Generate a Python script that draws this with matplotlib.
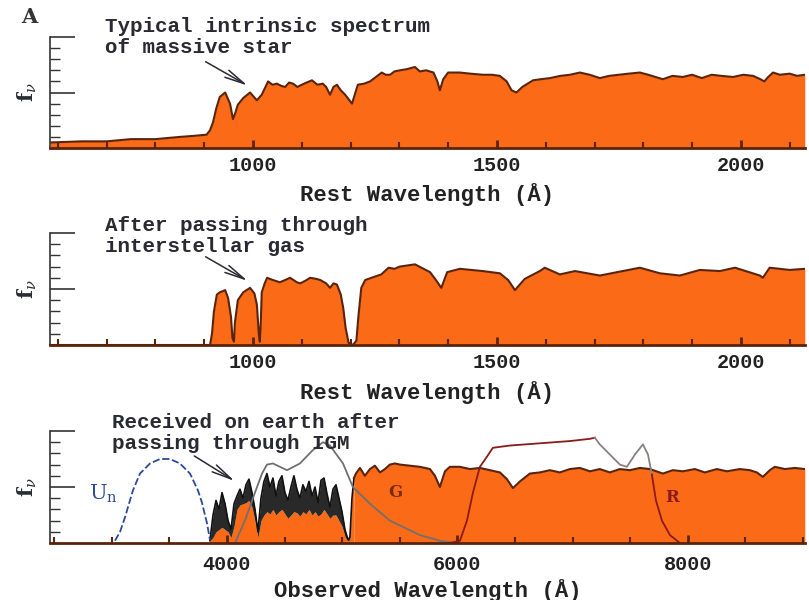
import matplotlib
matplotlib.use("Agg")
import matplotlib.pyplot as plt
from matplotlib.ticker import MultipleLocator, FixedLocator

# ---- panel 1: intrinsic spectrum (rest frame, arbitrary f_nu units) ----
rest_wave = [584, 650, 700, 750, 800, 850, 880, 905, 912, 918, 925, 932, 943, 953, 959, 964,
             969, 980, 994, 1008, 1018, 1031, 1040, 1049, 1058, 1066, 1074, 1082, 1091, 1100,
             1110, 1121, 1132, 1143, 1150, 1158, 1165, 1172, 1180, 1189, 1203, 1210, 1215,
             1228, 1240, 1252, 1264, 1272, 1281, 1290, 1301, 1315, 1332, 1342, 1355, 1370,
             1378, 1383, 1390, 1400, 1424, 1445, 1471, 1490, 1506, 1520, 1530, 1540, 1552,
             1574, 1590, 1609, 1630, 1650, 1670, 1690, 1711, 1730, 1750, 1770, 1793, 1810,
             1825, 1840, 1860, 1881, 1900, 1920, 1940, 1960, 1984, 2005, 2025, 2040, 2048,
             2056, 2066, 2080, 2100, 2115, 2131]
intrinsic_flux = [0.05, 0.06, 0.06, 0.08, 0.08, 0.10, 0.11, 0.12, 0.16, 0.23, 0.36, 0.46, 0.50,
                  0.40, 0.26, 0.32, 0.39, 0.45, 0.50, 0.43, 0.48, 0.60, 0.57, 0.58, 0.56, 0.55,
                  0.59, 0.58, 0.55, 0.57, 0.59, 0.61, 0.57, 0.58, 0.55, 0.48, 0.55, 0.57, 0.52,
                  0.48, 0.40, 0.50, 0.57, 0.58, 0.60, 0.64, 0.68, 0.66, 0.66, 0.69, 0.70, 0.71,
                  0.73, 0.69, 0.70, 0.68, 0.60, 0.52, 0.62, 0.68, 0.68, 0.67, 0.66, 0.66, 0.65,
                  0.60, 0.52, 0.50, 0.55, 0.61, 0.62, 0.63, 0.65, 0.66, 0.68, 0.66, 0.63, 0.65,
                  0.66, 0.67, 0.68, 0.66, 0.64, 0.62, 0.65, 0.64, 0.66, 0.63, 0.66, 0.65, 0.64,
                  0.66, 0.65, 0.62, 0.60, 0.64, 0.68, 0.66, 0.67, 0.65, 0.66]

# ---- panel 2: after interstellar gas (rest frame) ----
ism_wave = [584, 900, 912, 916, 920, 926, 932, 943, 949, 955, 958, 961, 963, 969, 980, 994,
            1003, 1008, 1012, 1014, 1016, 1018, 1024, 1029, 1041, 1055, 1066, 1076, 1090,
            1097, 1110, 1117, 1130, 1138, 1150, 1158, 1165, 1172, 1180, 1185, 1190, 1196,
            1205, 1212, 1216, 1222, 1230, 1243, 1263, 1278, 1290, 1301, 1332, 1363, 1375,
            1386, 1398, 1424, 1471, 1506, 1523, 1537, 1557, 1588, 1598, 1629, 1660, 1711,
            1793, 1834, 1875, 1916, 1957, 1988, 2039, 2045, 2059, 2100, 2131]
ism_flux = [0.0, 0.0, 0.0, 0.10, 0.30, 0.45, 0.47, 0.49, 0.42, 0.25, 0.06, 0.03, 0.20, 0.40,
            0.47, 0.51, 0.46, 0.36, 0.10, 0.03, 0.20, 0.47, 0.55, 0.60, 0.58, 0.56, 0.58,
            0.60, 0.56, 0.55, 0.58, 0.60, 0.59, 0.58, 0.55, 0.51, 0.55, 0.54, 0.45, 0.33,
            0.15, 0.02, 0.0, 0.04, 0.25, 0.51, 0.58, 0.60, 0.63, 0.69, 0.68, 0.70, 0.72,
            0.65, 0.58, 0.51, 0.65, 0.68, 0.66, 0.64, 0.58, 0.49, 0.59, 0.66, 0.69, 0.63,
            0.66, 0.62, 0.69, 0.64, 0.62, 0.67, 0.66, 0.69, 0.62, 0.60, 0.69, 0.67, 0.68]

# ---- panel 3: observed frame, Lyman forest part ----
forest_wave = [3852, 3879, 3905, 3931, 3957, 3983, 4009, 4035, 4061, 4087, 4113, 4139, 4165,
               4191, 4217, 4243, 4269, 4295, 4321, 4347, 4373, 4399, 4425, 4451, 4477, 4503,
               4529, 4555, 4581, 4607, 4633, 4659, 4685, 4712, 4738, 4764, 4790, 4816, 4842,
               4868, 4894, 4920, 4946, 4972, 4998, 5024, 5050, 5067, 5085, 5102]
forest_top = [0.02, 0.25, 0.38, 0.30, 0.45, 0.35, 0.20, 0.12, 0.35, 0.42, 0.48, 0.40, 0.52,
              0.57, 0.45, 0.30, 0.10, 0.40, 0.55, 0.62, 0.50, 0.58, 0.42, 0.55, 0.60, 0.45,
              0.38, 0.50, 0.60, 0.48, 0.40, 0.52, 0.46, 0.55, 0.42, 0.50, 0.36, 0.56, 0.58,
              0.44, 0.32, 0.48, 0.52, 0.40, 0.28, 0.12, 0.03, 0.05, 0.40, 0.58]
forest_base = [0.02, 0.05, 0.10, 0.12, 0.14, 0.12, 0.10, 0.05, 0.15, 0.30, 0.34, 0.35, 0.36,
               0.38, 0.32, 0.20, 0.05, 0.20, 0.25, 0.28, 0.26, 0.30, 0.25, 0.28, 0.30, 0.26,
               0.22, 0.25, 0.28, 0.27, 0.24, 0.28, 0.26, 0.30, 0.25, 0.28, 0.24, 0.26, 0.30,
               0.26, 0.22, 0.25, 0.25, 0.20, 0.15, 0.06, 0.02, 0.03, 0.40, 0.58]

# ---- panel 3: observed frame, redward of Lyman alpha ----
obs_wave = [5102, 5119, 5154, 5197, 5241, 5284, 5328, 5371, 5414, 5458, 5501, 5588, 5675,
            5762, 5805, 5848, 5892, 5935, 6022, 6109, 6195, 6282, 6369, 6430, 6482, 6543,
            6629, 6716, 6803, 6889, 6976, 7063, 7150, 7236, 7323, 7410, 7497, 7584, 7671,
            7783, 7870, 7957, 8061, 8148, 8252, 8339, 8451, 8538, 8599, 8651, 8712, 8755,
            8842, 8929, 9015]
obs_flux = [0.58, 0.62, 0.67, 0.60, 0.66, 0.69, 0.63, 0.66, 0.70, 0.71, 0.70, 0.69, 0.68,
            0.66, 0.60, 0.50, 0.64, 0.68, 0.68, 0.66, 0.67, 0.65, 0.63, 0.57, 0.49, 0.55,
            0.62, 0.63, 0.65, 0.63, 0.66, 0.67, 0.64, 0.66, 0.63, 0.66, 0.65, 0.67, 0.66,
            0.62, 0.65, 0.64, 0.66, 0.63, 0.66, 0.64, 0.66, 0.65, 0.63, 0.59, 0.65, 0.68,
            0.66, 0.67, 0.66]

# ---- filter curves (observed frame) ----
un_wave = [3028, 3072, 3115, 3158, 3184, 3245, 3332, 3419, 3505, 3592, 3679, 3748, 3783,
           3809, 3826, 3852]
un_resp = [0.02, 0.10, 0.23, 0.38, 0.47, 0.62, 0.71, 0.75, 0.75, 0.71, 0.62, 0.47, 0.36,
           0.25, 0.18, 0.03]
g_wave = [4070, 4156, 4243, 4304, 4347, 4399, 4521, 4633, 4746, 4833, 4894, 5007, 5093,
          5241, 5414, 5675, 5848, 5978]
g_resp = [0.0, 0.20, 0.45, 0.62, 0.70, 0.71, 0.65, 0.71, 0.83, 0.90, 0.87, 0.71, 0.50,
          0.35, 0.20, 0.07, 0.02, 0.0]
r_wave = [5935, 6022, 6083, 6135, 6195, 6256, 6308, 6455, 6716, 6976, 7150, 7193, 7236,
          7323, 7410, 7471, 7541, 7610, 7654, 7688, 7723, 7775, 7845, 7931]
r_resp = [0.0, 0.02, 0.20, 0.45, 0.68, 0.77, 0.85, 0.87, 0.89, 0.91, 0.93, 0.94, 0.88,
          0.79, 0.70, 0.68, 0.79, 0.88, 0.79, 0.61, 0.38, 0.20, 0.07, 0.0]

ORANGE = "#fb6a16"
EDGE = "#5a240c"
TXT = "#2a2a33"
MONO = "Liberation Mono"
ARROW = dict(arrowstyle="->, head_width=0.18, head_length=0.9", color=TXT, lw=1.1,
             mutation_scale=16)

plt.rcParams["mathtext.fontset"] = "dejavuserif"


def style_axis(ax, xlim, major, minor, pad, xlabel):
    ax.set_xlim(*xlim)
    ax.set_ylim(0, 1)
    ax.spines["top"].set_visible(False)
    ax.spines["right"].set_visible(False)
    ax.spines["left"].set_color("#333333")
    ax.spines["left"].set_linewidth(1.2)
    ax.spines["bottom"].set_color(EDGE)
    ax.spines["bottom"].set_linewidth(2)
    ax.xaxis.set_major_locator(MultipleLocator(major))
    ax.xaxis.set_minor_locator(MultipleLocator(minor))
    ax.yaxis.set_major_locator(FixedLocator([0.5, 1.0]))
    ax.yaxis.set_minor_locator(MultipleLocator(0.1))
    ax.tick_params(axis="x", which="major", direction="in", length=6, width=2,
                   color=EDGE, pad=pad, labelsize=14.5, labelcolor="#222222")
    ax.tick_params(axis="x", which="minor", direction="in", length=4, width=1.5, color=EDGE)
    ax.tick_params(axis="y", which="major", direction="in", length=18, width=1.2,
                   color="#333333", labelleft=False)
    ax.tick_params(axis="y", which="minor", direction="in", length=7, width=1.0,
                   color="#333333")
    for lab in ax.get_xticklabels():
        lab.set_family(MONO)
        lab.set_weight("bold")
    ax.text(0.5, -0.42, xlabel, transform=ax.transAxes, ha="center", va="center",
            fontsize=16, family=MONO, weight="bold", color="#222222")
    ax.text(-0.03, 0.5, r"f$_\nu$", transform=ax.transAxes, rotation=90, ha="center",
            va="center", fontsize=15, family="DejaVu Serif", weight="bold", color=TXT)
    ax.patch.set_alpha(0)


fig = plt.figure(figsize=(8.09, 6.0), dpi=100)
ax1 = fig.add_axes([0.0618, 0.7533, 0.933, 0.185])
ax2 = fig.add_axes([0.0618, 0.425, 0.933, 0.1867])
ax3 = fig.add_axes([0.0618, 0.095, 0.933, 0.1867])

# panel 1
ax1.fill_between(rest_wave, 0, intrinsic_flux, color=ORANGE, lw=0)
ax1.plot(rest_wave, intrinsic_flux, color=EDGE, lw=1.5)
style_axis(ax1, (584, 2131), 500, 100, 6, "Rest Wavelength (Å)")
ax1.text(697, 1.18, "Typical intrinsic spectrum\nof massive star", va="top", ha="left",
         fontsize=15, family=MONO, weight="bold", color=TXT, linespacing=1.1, clip_on=False)
ax1.annotate("", xy=(994, 0.55), xytext=(898, 0.79), annotation_clip=False, arrowprops=ARROW)

# panel 2
ax2.fill_between(ism_wave, 0, ism_flux, color=ORANGE, lw=0)
ax2.plot(ism_wave, ism_flux, color=EDGE, lw=1.5)
style_axis(ax2, (584, 2131), 500, 100, 6, "Rest Wavelength (Å)")
ax2.text(697, 1.15, "After passing through\ninterstellar gas", va="top", ha="left",
         fontsize=15, family=MONO, weight="bold", color=TXT, linespacing=1.1, clip_on=False)
ax2.annotate("", xy=(994, 0.56), xytext=(898, 0.80), annotation_clip=False, arrowprops=ARROW)

# panel 3
ax3.fill_between(forest_wave, 0, forest_base, color=ORANGE, lw=0)
ax3.fill_between(forest_wave, forest_base, forest_top, color="#111111", alpha=0.9, lw=0)
ax3.plot(forest_wave, forest_top, color="#111111", lw=1.2)
ax3.fill_between(obs_wave, 0, obs_flux, color=ORANGE, lw=0)
ax3.plot(obs_wave, obs_flux, color=EDGE, lw=1.5)
ax3.plot(un_wave, un_resp, color="#2a4a9a", lw=1.3, ls=(0, (4, 1.5)))
ax3.plot(g_wave, g_resp, color="#707070", lw=1.3)
ax3.plot(r_wave[:12], r_resp[:12], color="#8b1a1a", lw=1.3)
ax3.plot(r_wave[11:20], r_resp[11:20], color="#8a8080", lw=1.3)
ax3.plot(r_wave[19:], r_resp[19:], color="#8b1a1a", lw=1.3)
ax3.text(2924, 0.44, r"U$_\mathrm{n}$", color="#2a4a9a", fontsize=15, family="DejaVu Serif",
         ha="center", va="center")
ax3.text(5458, 0.45, "G", color="#7a2a10", fontsize=12, family="DejaVu Serif", weight="bold",
         ha="center", va="center")
ax3.text(7861, 0.41, "R", color="#8b1a1a", fontsize=12, family="DejaVu Serif", weight="bold",
         ha="center", va="center")
style_axis(ax3, (2464, 9015), 2000, 500, 9, "Observed Wavelength (Å)")
ax3.text(3002, 1.16, "Received on earth after\npassing through IGM", va="top", ha="left",
         fontsize=15, family=MONO, weight="bold", color=TXT, linespacing=1.1, clip_on=False)
ax3.annotate("", xy=(4087, 0.54), xytext=(3696, 0.79), annotation_clip=False, arrowprops=ARROW)

fig.text(0.036, 0.972, "A", fontsize=15, weight="bold", family="DejaVu Serif",
         ha="center", va="center", color="#333333")

fig.savefig("out.png", dpi=100, facecolor="white")
